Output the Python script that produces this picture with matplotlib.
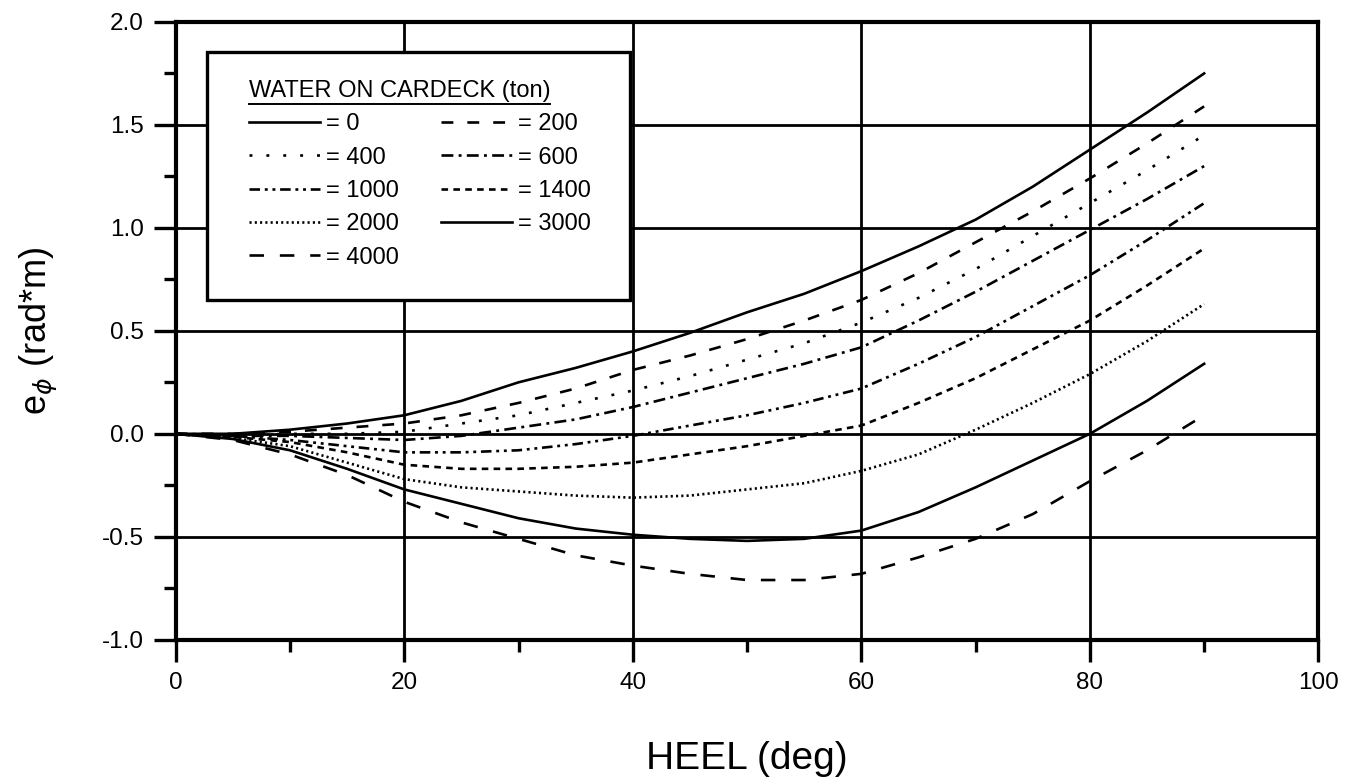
import matplotlib
matplotlib.use("Agg")
import matplotlib.pyplot as plt
from matplotlib.lines import Line2D
from matplotlib.patches import Rectangle
import numpy as np

plt.rcParams['font.family'] = ['Liberation Sans', 'DejaVu Sans']
plt.rcParams['axes.unicode_minus'] = False

# heel angle (deg) and righting-energy curves
heel = [0, 5, 10, 15, 20, 25, 30, 35, 40, 45, 50, 55, 60, 65, 70, 75, 80, 85, 90]

e_0    = [0, 0.0, 0.02, 0.05, 0.09, 0.16, 0.25, 0.32, 0.40, 0.49, 0.59, 0.68, 0.79, 0.91, 1.04, 1.20, 1.38, 1.56, 1.75]
e_200  = [0, 0.0, 0.01, 0.03, 0.05, 0.09, 0.15, 0.22, 0.31, 0.38, 0.46, 0.55, 0.65, 0.78, 0.93, 1.08, 1.24, 1.41, 1.59]
e_400  = [0, -0.005, 0.0, 0.0, 0.01, 0.05, 0.09, 0.15, 0.21, 0.28, 0.36, 0.44, 0.54, 0.66, 0.80, 0.96, 1.12, 1.28, 1.45]
e_600  = [0, -0.01, -0.01, -0.02, -0.03, -0.01, 0.03, 0.07, 0.13, 0.20, 0.27, 0.34, 0.42, 0.55, 0.69, 0.84, 0.99, 1.14, 1.30]
e_1000 = [0, -0.01, -0.03, -0.06, -0.09, -0.09, -0.08, -0.05, -0.01, 0.04, 0.09, 0.15, 0.22, 0.34, 0.47, 0.62, 0.77, 0.94, 1.12]
e_1400 = [0, -0.015, -0.04, -0.09, -0.15, -0.17, -0.17, -0.16, -0.14, -0.10, -0.06, -0.01, 0.04, 0.15, 0.27, 0.41, 0.55, 0.72, 0.90]
e_2000 = [0, -0.02, -0.06, -0.14, -0.22, -0.26, -0.28, -0.30, -0.31, -0.30, -0.27, -0.24, -0.18, -0.10, 0.02, 0.15, 0.29, 0.45, 0.63]
e_3000 = [0, -0.025, -0.08, -0.17, -0.27, -0.34, -0.41, -0.46, -0.49, -0.51, -0.52, -0.51, -0.47, -0.38, -0.26, -0.13, 0.0, 0.16, 0.34]
e_4000 = [0, -0.03, -0.10, -0.20, -0.33, -0.43, -0.51, -0.59, -0.64, -0.68, -0.71, -0.71, -0.68, -0.60, -0.51, -0.39, -0.23, -0.08, 0.09]

tons = [0, 200, 400, 600, 1000, 1400, 2000, 3000, 4000]
curves = [e_0, e_200, e_400, e_600, e_1000, e_1400, e_2000, e_3000, e_4000]
styles = ['-',
          (0, (4.5, 5.3)),
          (0, (1.1, 5.3)),
          (0, (4.5, 2, 1.1, 2)),
          (0, (4, 1.8, 1.1, 1.8, 1.1, 1.8)),
          (0, (2.5, 2)),
          (0, (0.8, 1.2)),
          '-',
          (0, (5.5, 6))]

fig = plt.figure(figsize=(13.62, 7.84), dpi=100)
ax = fig.add_axes([0.129, 0.184, 0.839, 0.788])

lines = []
for t, ys, ls in zip(tons, curves, styles):
    ln, = ax.plot(heel, ys, color='black', lw=1.9, linestyle=ls, label='= {}'.format(t))
    lines.append(ln)

ax.set_xlim(0, 100)
ax.set_ylim(-1.0, 2.0)
ax.set_xticks(np.arange(0, 101, 20))
ax.set_xticks(np.arange(0, 101, 10), minor=True)
ax.set_yticks(np.arange(-1.0, 2.01, 0.5))
ax.set_yticks(np.arange(-1.0, 2.01, 0.25), minor=True)
ax.set_yticklabels(['{:.1f}'.format(v) for v in np.arange(-1.0, 2.01, 0.5)])
ax.grid(True, which='major', color='black', lw=2.0)
ax.set_axisbelow(True)
ax.tick_params(which='major', direction='out', length=16, width=2.4, labelsize=17.5, pad=7)
ax.tick_params(which='minor', direction='out', length=8.5, width=2.4)
for s in ax.spines.values():
    s.set_linewidth(3)

ax.set_xlabel('HEEL (deg)', fontsize=28, labelpad=34)
ax.set_ylabel(r'e$_{\phi}$ (rad*m)', fontsize=26, labelpad=30)

# legend box drawn separately so the padding matches the original
ax.add_patch(Rectangle((0.027, 0.550), 0.371, 0.401, transform=ax.transAxes,
                       facecolor='white', edgecolor='black', lw=2.4, zorder=4))

order = [0, 2, 4, 6, 8, 1, 3, 5, 7]
leg = ax.legend([lines[i] for i in order], [lines[i].get_label() for i in order],
                ncol=2, loc='upper left', bbox_to_anchor=(0.064, 0.906),
                borderaxespad=0, borderpad=0, frameon=False,
                title='WATER ON CARDECK (ton)', title_fontsize=17, fontsize=17,
                handlelength=3.0, handletextpad=0.25, columnspacing=1.8,
                labelspacing=0.48)
leg.set_zorder(5)
leg._legend_box.align = 'left'

# underline the legend title
fig.canvas.draw()
bb = leg.get_title().get_window_extent().transformed(fig.transFigure.inverted())
fig.add_artist(Line2D([bb.x0, bb.x1], [bb.y0 - 0.002, bb.y0 - 0.002],
                      transform=fig.transFigure, color='black', lw=1.4))

fig.savefig('out.png', dpi=100)
